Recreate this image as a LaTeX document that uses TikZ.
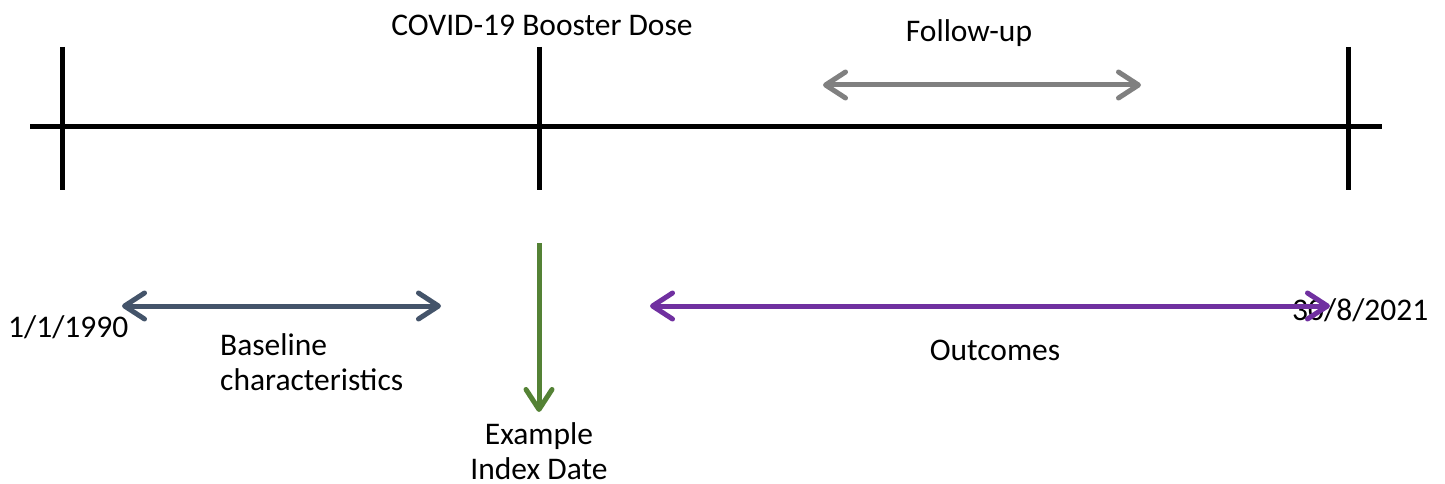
\documentclass[tikz,border=0pt]{standalone}
\usepackage{fontspec}
\setmainfont{Carlito}
\usetikzlibrary{arrows.meta}
\definecolor{slate}{RGB}{68,84,106}
\definecolor{grn}{RGB}{84,130,53}
\definecolor{purp}{RGB}{112,48,160}
\definecolor{gry}{RGB}{128,128,128}
\begin{document}
\begin{tikzpicture}[x=1pt,y=-1pt,
  txt/.style={font=\fontsize{31.5}{35}\selectfont, inner sep=0pt, anchor=base},
  axisline/.style={line width=5pt, black},
  dblarr/.style={line width=5pt, {Straight Barb[length=20pt,width=26pt,round]}-{Straight Barb[length=20pt,width=26pt,round]}},
  onearr/.style={line width=5pt, -{Straight Barb[length=20pt,width=26pt,round]}}]
\useasboundingbox (0,0) rectangle (1445,484);
% axis
\coordinate (axL) at (30,127);
\coordinate (axR) at (1382,127);
\draw[axisline] (axL) -- (axR);
\coordinate (t1a) at (62,47);  \coordinate (t1b) at (62,190);
\coordinate (t2a) at (539,47); \coordinate (t2b) at (539,190);
\coordinate (t3a) at (1348,47); \coordinate (t3b) at (1348,190);
\draw[axisline] (t1a) -- (t1b);
\draw[axisline] (t2a) -- (t2b);
\draw[axisline] (t3a) -- (t3b);
% labels
\node[txt] (booster) at (542,36) {COVID-19 Booster Dose};
\node[txt] (follow) at (969,42) {Follow-up};
\node[txt, anchor=base west] (start) at (8,337) {1/1/1990};
\node[txt, anchor=base west] (end) at (1292,320) {30/8/2021};
\node[txt, anchor=base west, align=left] (base) at (220,390) {Baseline\\characteristics};
\node[txt] (outc) at (995,360) {Outcomes};
\node[txt, align=center] (ex) at (539,479) {Example\\Index Date};
% arrows
\coordinate (fuL) at (823,85); \coordinate (fuR) at (1141,85);
\draw[dblarr, gry] (fuL) -- (fuR);
\coordinate (blL) at (122,306); \coordinate (blR) at (441,306);
\draw[dblarr, slate] (blL) -- (blR);
\coordinate (ocL) at (650,306); \coordinate (ocR) at (1330,306);
\draw[dblarr, purp] (ocL) -- (ocR);
\coordinate (gT) at (539,243); \coordinate (gB) at (539,412);
\draw[onearr, grn] (gT) -- (gB);
\end{tikzpicture}
\end{document}
